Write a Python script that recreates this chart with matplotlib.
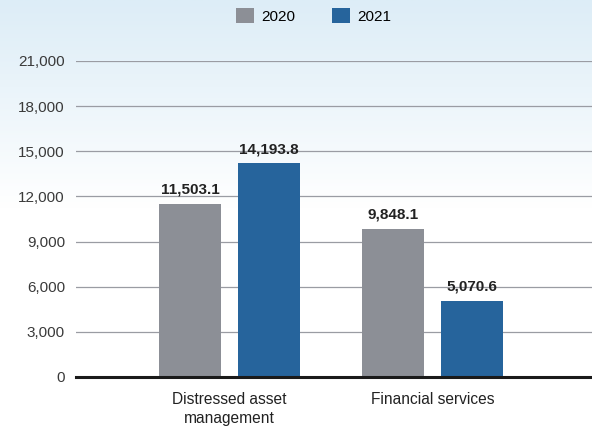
import numpy as np
import matplotlib
matplotlib.use('Agg')
import matplotlib.pyplot as plt
from matplotlib.colors import LinearSegmentedColormap

plt.rcParams['font.family'] = ['Liberation Sans', 'DejaVu Sans']

categories = ['Distressed asset\nmanagement', 'Financial services']
years = ['2020', '2021']
values_2020 = [11503.1, 9848.1]
values_2021 = [14193.8, 5070.6]
yticks = [0, 3000, 6000, 9000, 12000, 15000, 18000, 21000]

colors = ['#8c8f96', '#26649c']

fig = plt.figure(figsize=(5.92, 4.32), dpi=100)

# soft blue wash fading to white behind everything
bg = fig.add_axes([0, 0, 1, 1], zorder=-10)
grad = np.linspace(0, 1, 256).reshape(-1, 1)
cmap = LinearSegmentedColormap.from_list('wash', [(0, '#ffffff'), (0.52, '#ffffff'), (0.8, '#eaf4fa'), (1, '#ddedf7')])
bg.imshow(grad, aspect='auto', cmap=cmap, origin='lower', extent=[0, 1, 0, 1])
bg.axis('off')

ax = fig.add_axes([76 / 592, 1 - 377 / 432, 1 - 76 / 592, (377 - 61) / 432])
ax.patch.set_alpha(0)

x = np.arange(len(categories))
offset = 0.193
width = 0.305
series = [values_2020, values_2021]
for i, (yr, vals) in enumerate(zip(years, series)):
    pos = x + (i * 2 - 1) * offset
    bars = ax.bar(pos, vals, width, color=colors[i], label=yr, zorder=3)
    for b, v in zip(bars, vals):
        ax.annotate(f'{v:,.1f}', (b.get_x() + b.get_width() / 2, v),
                    xytext=(0, 5), textcoords='offset points',
                    ha='center', va='bottom', fontsize=11, fontweight='bold',
                    color='#222222', zorder=4)

ax.set_xlim(-0.756, 1.786)
ax.set_ylim(0, 21000)
ax.set_yticks(yticks)
ax.set_yticklabels([f'{t:,}' for t in yticks], fontsize=11, color='#3a3a3a')
ax.grid(axis='y', color='#9a9ca3', linewidth=0.9, zorder=0)
ax.axhline(0, color='#1a1a1a', linewidth=2.2, zorder=5, clip_on=False)
ax.tick_params(axis='y', length=0, pad=8)
ax.tick_params(axis='x', length=0, pad=11)
ax.set_xticks(x)
ax.set_xticklabels(categories, fontsize=11.2, color='#222222', linespacing=1.3)
for s in ax.spines.values():
    s.set_visible(False)

fig.legend(loc='upper left', bbox_to_anchor=(222 / 592, 1 + 6 / 432), ncol=2,
           frameon=False, fontsize=11, handlelength=1.2, handleheight=1.2,
           columnspacing=2.4, handletextpad=0.45)

fig.savefig('out.png', dpi=100)
